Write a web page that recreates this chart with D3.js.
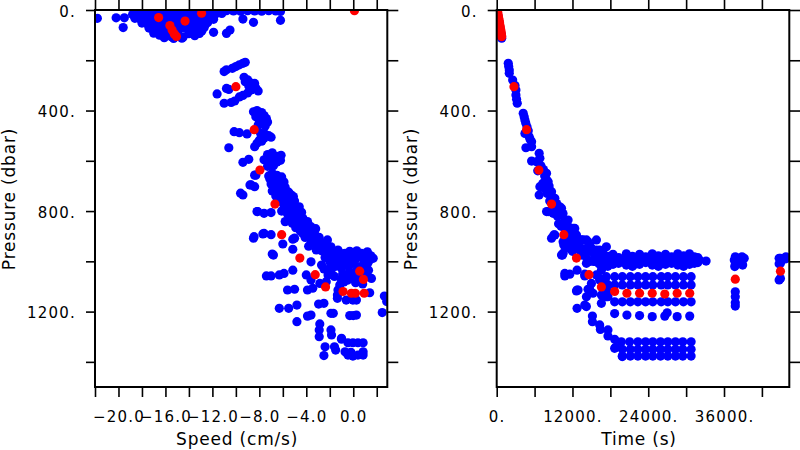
<!DOCTYPE html>
<html><head><meta charset="utf-8">
<script src="https://cdn.jsdelivr.net/npm/d3@7"></script>
<style>
body{margin:0;background:#fff}
svg{display:block}
text{font-family:"DejaVu Sans",sans-serif;fill:#000}
</style>
</head><body>
<svg id="c" width="800" height="450"></svg>
<script>
// ---------------- DATA ----------------
const speedTicks = [-22,-20,-18,-16,-14,-12,-10,-8,-6,-4,-2,0,2];
const speedLabelTicks = [-20,-16,-12,-8,-4,0];
const timeTicks = [0,6000,12000,18000,24000,30000,36000,42000];
const timeLabelTicks = [0,12000,24000,36000];
const pressureTicks = [0,200,400,600,800,1000,1200,1400];
const pressureLabelTicks = [0,400,800,1200];
const speedDomain = [-22, 2.9];
const timeDomain = [0, 46340];
const pressureDomain = [0, 1500];

// Speed (cm/s) vs Pressure (dbar) — blue samples
const speedBlue = [
 [-18.6,4],[-18.0,5],[-17.4,3],[-16.8,6],[-16.2,4],[-15.6,5],[-15.0,3],[-14.4,6],[-13.8,4],[-13.2,5],[-12.6,3],[-12.0,4],[-11.4,5],[-10.8,3],[-10.2,4],[-9.6,5],[-9.0,3],[-8.4,4],[-7.8,5],[-7.2,3],[-6.6,4],[-6.2,6],
 [-18.8,18],[-18.3,22],[-17.8,16],[-17.3,24],[-16.8,18],[-16.3,22],[-15.8,15],[-15.3,20],[-14.8,25],[-14.3,16],[-13.8,22],[-13.3,18],[-12.8,24],[-12.3,15],[-11.8,20],[-11.2,14],
 [-18.6,33],[-18.1,38],[-17.6,30],[-17.1,42],[-16.6,35],[-16.1,40],[-15.6,32],[-15.1,45],[-14.6,36],[-14.1,30],[-13.6,40],[-13.1,34],[-12.7,44],[-12.3,32],[-11.9,37],
 [-18.0,52],[-17.5,58],[-17.0,50],[-16.5,62],[-16.0,55],[-15.5,66],[-15.0,52],[-14.5,60],[-14.0,55],[-13.5,63],[-13.0,52],[-12.6,58],[-12.4,50],
 [-17.4,72],[-16.9,80],[-16.4,74],[-15.9,84],[-15.4,76],[-14.9,82],[-14.4,72],[-13.9,80],[-13.4,75],[-12.9,84],[-12.7,70],
 [-17.0,92],[-16.5,100],[-16.0,95],[-15.5,106],[-15.0,98],[-14.5,108],[-14.0,94],[-13.5,102],[-13.2,92],[-16.1,110],[-15.3,113],[-14.6,112],
 [-21.8,33],[-20.2,31],[-19.5,31],[-19.6,70],[-9.4,36],[-8.5,49],[-6.2,41],[-11.9,89],[-10.8,93],[-10.5,80],[-13.1,93],
 [-11.0,245],[-10.8,238],[-10.3,232],[-10.0,225],[-9.7,218],[-9.4,212],[-9.2,208],
 [-9.3,268],[-9.0,278],[-8.8,288],[-8.6,298],[-8.3,310],[-8.1,322],[-8.7,318],[-9.0,330],[-9.4,340],[-9.7,346],[-10.1,362],[-10.4,368],[-8.9,302],[-8.4,292],[-9.2,285],[-10.6,316],[-11.6,334],[-11.0,371],[-10.8,312],
 [-8.5,405],[-8.2,400],[-7.8,408],[-7.6,420],[-8.3,425],[-7.4,432],[-8.0,440],[-7.3,446],[-7.8,452],[-8.0,415],[-7.6,436],[-8.1,458],[-7.5,462],
 [-7.9,490],[-7.5,494],[-7.2,500],[-7.0,506],[-7.6,510],[-8.0,518],[-8.2,530],[-8.4,544],[-7.8,522],
 [-10.15,484],[-9.7,488],[-9.05,493],[-10.6,548],
 [-6.9,568],[-6.4,582],[-7.6,596],[-7.2,610],[-6.15,578],[-7.3,622],[-6.7,595],[-7.0,588],[-6.5,605],[-6.8,620],[-7.3,575],[-6.8,580],[-6.2,598],[-7.0,615],
 [-9.4,606],[-8.9,594],[-8.3,657],[-8.7,696],[-8.4,703],[-9.4,736],[-8.15,802],[-7.6,809],[-7.0,806],
 [-6.9,650],[-6.5,658],[-6.1,664],[-7.1,672],[-6.6,680],[-5.9,684],[-7.0,692],[-6.4,698],[-5.8,705],[-6.7,710],[-6.1,716],[-5.5,725],[-6.4,730],[-5.9,738],[-5.1,742],[-6.3,750],[-5.6,755],[-5.0,760],[-6.0,768],[-5.3,776],[-4.6,783],[-5.7,790],[-5.0,796],[-4.4,805],[-5.6,812],[-4.9,820],[-4.3,828],[-5.8,842],[-5.2,848],[-4.6,856],[-3.9,842],[-3.6,862],[-4.9,866],[-4.2,872],[-3.6,880],[-4.3,889],[-3.3,889],[-3.9,898],[-2.9,905],[-3.5,912],[-2.9,918],[-3.6,928],[-2.45,928],[-3.1,938],[-1.9,942],[-2.5,948],[-3.15,955],[-2.15,962],[-1.3,955],[-0.7,968],[-0.03,968],[0.7,968],[1.0,988],[-1.6,988],[-0.7,1002],[-0.03,1008],[0.84,1015],[-1.0,1028],[-0.3,1041],[0.4,1021],[-0.6,1054],[-0.16,1068],[0.4,1068],[-1.0,1074],[-1.15,1008],[-0.45,988],[0.27,988],[1.3,1002],[1.3,1035],[-1.8,975],[-2.4,985],[-1.2,965],[0.3,958],[1.2,962],[1.5,978],[0.9,995],[-0.3,995],[-1.5,1020],[0.9,1045],[1.1,1060],[-0.8,1082],[0.2,1085],[0.8,1090],[-1.3,1000],[-2.0,1002],
 [-7.2,660],[-6.2,690],[-6.9,720],[-5.3,735],[-6.6,740],[-5.8,760],[-5.4,790],[-6.1,800],[-4.7,798],[-5.3,830],[-4.6,838],[-4.0,855],[-4.5,880],[-3.2,870],[-4.1,905],[-3.3,920],[-2.2,915],[-3.8,940],[-2.7,958],[-1.6,972],[-2.1,990],[-0.9,980],[0.0,980],[0.6,980],[1.4,990],[-0.4,1020],[0.3,1035],[1.0,1025],[-0.9,1050],[0.0,1052],[0.6,1055],[-0.5,1075],[1.2,1010],[-1.9,1022],[-2.5,1030],[-1.6,1060],[-0.3,960],
 [-2.85,1088],[-2.3,1081],[-3.6,1074],[-2.7,1015],[-1.9,1041],[-3.6,1002],[-2.15,1054],
 [-8.2,802],[-8.5,908],[-7.7,891],[-7.0,894],[-6.0,931],[-5.15,912],[-6.8,975],[-5.15,952],[-7.4,1058],[-7.0,1058],[-6.3,1054],[-5.9,1048],[-5.15,1035],[-4.0,1054],[-5.6,1114],[-5.0,1111],[-3.9,1114],[-3.45,1107],[-6.3,1187],[-5.5,1187],[-4.8,1174],[-4.8,1240],[-3.9,1218],[-3.6,1214],[-2.95,1170],[-2.5,1167],[-2.85,1249],[-2.9,1273],[-2.9,1300],[-2.4,1340],[-2.5,1375],[-1.9,1273],[-1.85,1293],[-1.6,1340],[-1.5,1353],[-1.0,1306],[-1.7,1207],[-1.9,1207],
 [-0.3,1216],[0.0,1216],[0.27,1214],[-0.6,1154],[-0.03,1154],[0.27,1154],[-1.35,1147],[-1.35,1134],[-1.15,1094],[-1.3,1114],
 [-0.45,1324],[-0.03,1324],[0.4,1324],[0.84,1324],[-1.0,1310],
 [-0.7,1360],[-0.45,1373],[-0.03,1377],[0.4,1373],[0.84,1373],[0.84,1360],[-0.2,1362],
 [2.65,1138],[2.85,1160],[2.47,1204],[1.4,1125],[1.55,1068],[1.7,988],[-8.45,902],[-7.6,889],[-6.9,971],[-5.0,908],[-9.6,729],[-8.8,696],[-8.4,657]
];
// Speed vs Pressure — red samples
const speedRed = [
 [-16.58,30],[-15.62,62],[-15.43,80],[-15.25,95],[-15.06,105],[-14.33,44],[-12.92,13],[0.1,3],
 [-10.0,305],[-8.44,476],[-7.95,637],[-6.67,772],[-6.1,894],[-4.55,987],[-3.24,1053],[-2.36,1102],
 [-0.87,1120],[-0.16,1127],[0.18,1127],[0.93,1127],[0.55,1039],[0.87,1072]
];

// Time (s) vs Pressure (dbar) — blue samples
const timeBlue = [
 [30,2],[80,8],[130,15],[180,22],[230,30],[280,38],[330,45],[380,52],[430,60],[480,68],[530,76],[580,84],[630,92],[680,100],[730,106],[790,112],[760,104],[700,96],
 [1832,212],[1990,239],[1990,252],[1900,225],[2526,279],[3047,318],[3047,338],[3253,371],[2900,300],[3150,355],
 [4200,411],[4469,438],[4600,450],[4469,491],[5148,504],[5527,524],[4627,548],[5527,544],[4350,425],[4800,465],[5000,480],[5300,515],
 [6727,570],[6837,590],[5527,601],[6316,604],[7895,650],[6837,703],[6727,736],[8148,683],[8685,723],[9205,749],[7000,620],[7400,635],[7600,660],[7900,675],[6500,640],[8300,700],[8700,740],
 [7300,690],[7600,710],[8000,730],[8400,760],[9000,780],[9600,820],[9800,850],[10200,860],[10800,870],[11500,900],[12000,920],[12500,930],[13000,940],[13800,950],[14600,960],[12000,960],[11600,950],
 [8148,802],[9995,783],[10264,816],[10785,836],[9205,895],[8685,908],[10516,922],[11574,928],[10264,975],[12364,869],[12632,895],[9500,770],[9900,800],[10500,810],[11000,850],[11300,860],[11800,880],[10800,900],[11200,910],[7895,802],[8937,809],[10264,789],[11305,836],[12095,869],[12364,902],[9048,895],[10516,968],[12632,935],[13421,915],[13150,955],[14464,922],[14211,915],[14732,935],[15790,955],[16832,968],[12885,942],[15790,915],[16311,955],[17369,942],[10627,935],[10422,975],[13674,915],[15000,948],[15250,962],[11000,945],
 [10785,1058],[11574,1051],[12727,1035],[13943,1051],[12727,1114],[14732,1111],[14211,1008],[10785,1048],[13943,1058],[12885,1114],[14464,1111],[16311,1068],[16580,1035],[17620,1094],[15000,1088],[15250,1127],[14211,1141],[17369,1141],[16580,1134],[16580,1167],[17620,1121],[16311,1074],[15790,1054],[15300,1000],
 [12632,1118],[12727,1187],[13943,1174],[14200,1180],[15158,1218],[15158,1240],[16311,1253],[16421,1271],[17620,1273],[17620,1297],[18680,1310],[18838,1342],[19895,1379],
 [13500,975],[14300,990],[14800,1000],[14000,960],
 [15500,975],[15500,1000],[16200,985],[16200,1010],[16833,970],[16833,992],[16833,1015],[17600,980],[17600,1005],[17600,1020],[18413,972],[18413,995],[18413,1012],[19300,985],[19300,1008],[20530,970],[20530,992],[20530,1015],[21500,980],[21500,1002],[21500,1020],[22627,972],[22627,995],[22627,1012],[23600,982],[23600,1005],[24633,970],[24633,990],[24633,1015],[25600,978],[25600,1002],[25600,1020],[26733,972],[26733,995],[26733,1012],[27700,982],[27700,1008],[28680,970],[28680,992],[28680,1015],[29600,978],[29600,1002],[29600,1020],[30530,970],[30530,995],[30530,1012],[31300,982],[31300,1008],[31850,985],[31850,1005],[33160,999],
 [16000,995],[17200,995],[18000,990],[18900,1000],[19900,995],[20900,1005],[21900,990],[22100,1010],[23100,995],[24100,1000],[25100,990],[26100,1010],[27200,995],[28200,1000],[29100,990],[30000,1010],[31000,995],[32100,995],
 [17369,1061],[18680,1061],[19895,1061],[21160,1061],[22360,1061],[23575,1061],[24727,1061],[26054,1061],[27096,1061],[28312,1061],[29575,1061],[30790,1061],
 [17400,1090],[18680,1094],[19895,1094],[21160,1094],[22360,1094],[23575,1094],[24727,1094],[26054,1094],[27096,1094],[28312,1094],[29575,1094],[30790,1094],
 [17620,1141],[18680,1161],[19895,1161],[21160,1161],[22360,1161],[23575,1161],[24727,1161],[26054,1161],[27096,1161],[28312,1161],[29575,1161],[30790,1161],
 [18680,1208],[20622,1214],[22627,1216],[24633,1220],[26622,1218],[27000,1205],[28580,1220],[30570,1218],
 [19740,1320],[21050,1320],[22360,1320],[23575,1320],[24727,1320],[25945,1320],[27100,1320],[28310,1320],[29470,1320],[30790,1320],
 [18680,1346],[19895,1350],[21160,1350],[22360,1350],[23575,1350],[24727,1350],[25945,1350],[27100,1350],[28310,1350],[29470,1350],[30790,1350],
 [19895,1377],[21160,1377],[22360,1377],[23575,1377],[24727,1377],[25945,1377],[27100,1377],[28310,1377],[29470,1377],[30790,1377],
 [37632,995],[37786,982],[37786,1001],[37786,1015],[37700,1021],[38843,982],[38843,1008],[39200,988],[38950,1015],[37786,1121],[37786,1141],[37786,1165],[37786,1178],
 [44940,988],[44940,1008],[44730,988],[44730,1010],[45790,990],[45800,982],[44940,1068],[44730,1074]
];
// Time vs Pressure — red samples
const timeRed = [
 [100,0],[150,8],[200,16],[260,25],[320,33],[380,42],[440,50],[500,60],[560,68],[620,78],[680,86],[720,94],[760,100],[790,106],
 [2732,305],[4737,476],[6679,637],[8685,772],[10627,894],[12632,987],[14622,1053],[16580,1102],[18680,1120],
 [20622,1127],[22627,1127],[24633,1127],[26622,1130],[28580,1127],[30570,1127],[37786,1071],[44940,1039]
];

// ---------------- DRAWING ----------------
const svg = d3.select("#c");
const top0 = 10, bot0 = 387;
const y = d3.scaleLinear().domain(pressureDomain).range([top0, bot0]);
const pFmt = d => pressureLabelTicks.includes(d) ? d + "." : "";
const R = 4.6;

function panel(id, x, xTicks, xLabelTicks, xFmt, blue, red, xTitle) {
  const [x0, x1] = x.range();
  const g = svg.append("g");
  g.append("clipPath").attr("id", "clip" + id)
    .append("rect").attr("x", x0).attr("y", top0).attr("width", x1 - x0).attr("height", bot0 - top0);
  const dots = g.append("g").attr("clip-path", `url(#clip${id})`);
  dots.selectAll("circle.b").data(blue).join("circle").attr("class","b")
    .attr("cx", d => x(d[0])).attr("cy", d => y(d[1])).attr("r", R).attr("fill", "#0000ff");
  dots.selectAll("circle.r").data(red).join("circle").attr("class","r")
    .attr("cx", d => x(d[0])).attr("cy", d => y(d[1])).attr("r", R).attr("fill", "#ff0000");

  const style = sel => {
    sel.select(".domain").remove();
    sel.selectAll(".tick line").attr("stroke", "#000").attr("stroke-width", 1.6);
    sel.selectAll(".tick text").style("font-size", "15px").style("letter-spacing", "1.2px").attr("fill", "#000");
  };
  g.append("g").attr("transform", `translate(0,${bot0})`)
    .call(d3.axisBottom(x).tickValues(xTicks).tickSize(10).tickFormat(d => xLabelTicks.includes(d) ? xFmt(d) : ""))
    .call(style)
    .call(s => s.selectAll(".tick text").attr("y", 34.5).attr("dy", 0));
  g.append("g").attr("transform", `translate(0,${top0})`)
    .call(d3.axisTop(x).tickValues(xTicks).tickSize(10).tickFormat(""))
    .call(style);
  g.append("g").attr("transform", `translate(${x0},0)`)
    .call(d3.axisLeft(y).tickValues(pressureTicks).tickSize(9).tickFormat(pFmt))
    .call(style)
    .call(s => s.selectAll(".tick text").attr("x", -19).attr("dy", "0.42em"));
  g.append("g").attr("transform", `translate(${x1},0)`)
    .call(d3.axisRight(y).tickValues(pressureTicks).tickSize(11).tickFormat(""))
    .call(style);

  g.append("rect").attr("x", x0).attr("y", top0).attr("width", x1 - x0).attr("height", bot0 - top0)
    .attr("fill", "none").attr("stroke", "#000").attr("stroke-width", 2);

  g.append("text").attr("x", (x0 + x1) / 2 - 4).attr("y", 445).attr("text-anchor", "middle")
    .style("font-size", "17px").style("letter-spacing", "0.8px").text(xTitle);
  g.append("text").attr("transform", `translate(${x0 - 80},199) rotate(-90)`).attr("text-anchor", "middle")
    .style("font-size", "17px").style("letter-spacing", "0.8px").text("Pressure (dbar)");
}

const xSpeed = d3.scaleLinear().domain(speedDomain).range([95, 387.3]);
const xTime = d3.scaleLinear().domain(timeDomain).range([496.7, 789.3]);
const speedFmt = d3.format(".1f");
panel("L", xSpeed, speedTicks, speedLabelTicks, speedFmt, speedBlue, speedRed, "Speed (cm/s)");
panel("R", xTime, timeTicks, timeLabelTicks, d => d + ".", timeBlue, timeRed, "Time (s)");
</script>
</body></html>
